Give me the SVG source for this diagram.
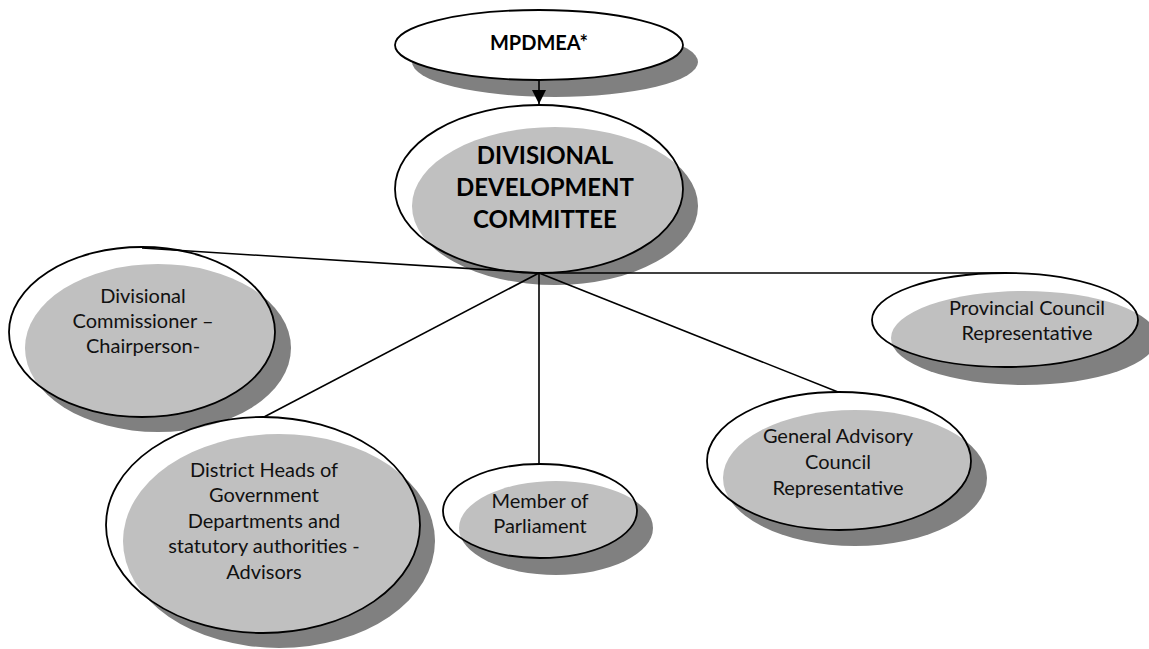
<svg xmlns="http://www.w3.org/2000/svg" width="1149" height="649" viewBox="0 0 1149 649">
<defs>
<style>
.sh{fill:#808080;stroke:none}
.el{fill:#ffffff;fill-opacity:0.5;stroke:#000;stroke-width:1.8}
.op{fill:#ffffff;stroke:#000;stroke-width:1.8}
.t{font-family:Lato,"Liberation Sans",sans-serif;font-size:20px;fill:#111;text-anchor:middle}
.b{font-family:Lato,"Liberation Sans",sans-serif;font-weight:bold;fill:#000;text-anchor:middle}
.c{stroke:#000;stroke-width:1.6;fill:none}
</style>
<marker id="arr" markerWidth="14" markerHeight="14" refX="14" refY="7" orient="auto" markerUnits="userSpaceOnUse" viewBox="0 0 14 14">
<path d="M0,0 L14,7 L0,14 Z" fill="#000"/>
</marker>
</defs>
<rect width="1149" height="649" fill="#fff"/>

<g id="mpdmea">
<ellipse class="sh" cx="555" cy="62" rx="143" ry="35"/>
<ellipse class="op" cx="539" cy="45" rx="144" ry="35"/>
<text class="b" x="539" y="50" font-size="20">MPDMEA*</text>
</g>

<g id="ddc">
<ellipse class="sh" cx="555" cy="206" rx="143" ry="79"/>
<ellipse class="el" cx="539" cy="189" rx="144" ry="84"/>
<text class="b" x="545" y="164" font-size="24">DIVISIONAL</text>
<text class="b" x="545" y="196" font-size="24">DEVELOPMENT</text>
<text class="b" x="545" y="228" font-size="24">COMMITTEE</text>
</g>

<g id="divisional-commissioner">
<ellipse class="sh" cx="158" cy="348" rx="133" ry="84"/>
<ellipse class="el" cx="142" cy="332" rx="133" ry="85"/>
<text class="t" x="143" y="303">Divisional</text>
<text class="t" x="143" y="328">Commissioner –</text>
<text class="t" x="143" y="353">Chairperson-</text>
</g>

<g id="provincial-council">
<ellipse class="sh" cx="1024" cy="338" rx="133" ry="47"/>
<ellipse class="el" cx="1005" cy="320" rx="133" ry="47"/>
<text class="t" x="1027" y="315">Provincial Council</text>
<text class="t" x="1027" y="340">Representative</text>
</g>

<g id="district-heads">
<ellipse class="sh" cx="279" cy="541" rx="156" ry="107"/>
<ellipse class="el" cx="263" cy="525" rx="157" ry="108"/>
<text class="t" x="264" y="477">District Heads of</text>
<text class="t" x="264" y="502">Government</text>
<text class="t" x="264" y="528">Departments and</text>
<text class="t" x="264" y="553">statutory authorities -</text>
<text class="t" x="264" y="579">Advisors</text>
</g>

<g id="member-of-parliament">
<ellipse class="sh" cx="556" cy="528" rx="97" ry="47"/>
<ellipse class="el" cx="540" cy="511" rx="97" ry="47"/>
<text class="t" x="540" y="508">Member of</text>
<text class="t" x="540" y="533">Parliament</text>
</g>

<g id="general-advisory-council">
<ellipse class="sh" cx="855" cy="478" rx="132" ry="68"/>
<ellipse class="el" cx="839" cy="461" rx="132" ry="69"/>
<text class="t" x="838" y="443">General Advisory</text>
<text class="t" x="838" y="469">Council</text>
<text class="t" x="838" y="495">Representative</text>
</g>

<g id="connectors">
<line class="c" x1="539" y1="80" x2="539" y2="104" marker-end="url(#arr)"/>
<line class="c" x1="539" y1="273" x2="142" y2="248"/>
<line class="c" x1="539" y1="273" x2="1005" y2="273"/>
<line class="c" x1="539" y1="273" x2="264" y2="417"/>
<line class="c" x1="539" y1="273" x2="539" y2="464"/>
<line class="c" x1="539" y1="273" x2="838" y2="392"/>
</g>
</svg>
